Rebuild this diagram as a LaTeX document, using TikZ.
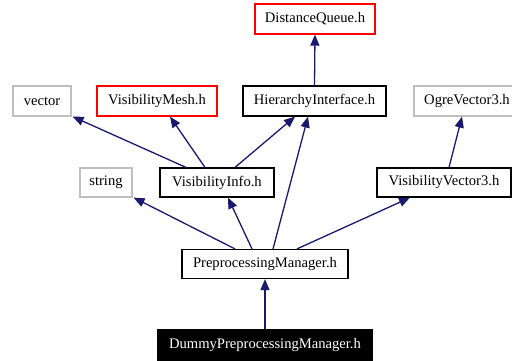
\documentclass[tikz,border=0pt]{standalone}
\usepackage{fontspec}
\setmainfont{Liberation Serif}
\usepackage{xcolor}
\usepackage{tikz}
\usetikzlibrary{arrows.meta}
\usetikzlibrary{positioning, calc}
\definecolor{edgeblue}{RGB}{25,25,112}
\definecolor{boxgray}{RGB}{191,191,191}
\tikzset{hfile/.style={draw, line width=1.2pt, minimum height=30pt, inner sep=0pt, font=\fontsize{14.6}{16}\selectfont},
	grayfile/.style={hfile, draw=boxgray},
	redfile/.style={hfile, draw=red},
	blackfile/.style={hfile, draw=black},
	thisfile/.style={hfile, draw=black, fill=black, text=white},
	incl/.style={edgeblue, line width=1.3pt, -{Triangle[length=11pt,width=9pt]}}
}

\begin{document}
\begin{tikzpicture}[x=1pt,y=-1pt]
\useasboundingbox (0,0) rectangle (512,360);

            \node[redfile, minimum width=120pt] (dq) at (315,19) {DistanceQueue.h};

            \node[grayfile, minimum width=58pt] (vector) at (42,101) {vector};
            \node[redfile, minimum width=120pt] (vmesh) at (157,101) {VisibilityMesh.h};
            \node[blackfile, minimum width=143pt] (hier) at (314.5,101) {HierarchyInterface.h};
            \node[grayfile, minimum width=106pt] (ogre) at (467,101) {OgreVector3.h};

            \node[grayfile, minimum width=52pt, minimum height=29pt] (string) at (106,182.5) {string};
            \node[blackfile, minimum width=114pt, minimum height=29pt] (vinfo) at (217,182.5) {VisibilityInfo.h};
            \node[blackfile, minimum width=134pt, minimum height=29pt] (vvec) at (444,182.5) {VisibilityVector3.h};

            \node[blackfile, minimum width=166pt, minimum height=29pt] (pm) at (265,264) {PreprocessingManager.h};
            \node[thisfile, minimum width=214pt] (dummy) at (265,345) {DummyPreprocessingManager.h};

 % include edges
        \draw[incl] (hier.north) -- (dq.south);
        \draw[incl] ([xshift=-31pt]vinfo.north) -- ([xshift=1pt]vector.south east);
        \draw[incl] ([xshift=-12pt]vinfo.north) -- ([xshift=13pt]vmesh.south);
        \draw[incl] ([xshift=18pt]vinfo.north) -- ([xshift=-19.5pt]hier.south);
        \draw[incl] ([xshift=5pt]vvec.north) -- ([xshift=-5pt]ogre.south);
        \draw[incl] ([xshift=-30pt]pm.north) -- ([xshift=1pt]string.south east);
        \draw[incl] ([xshift=-13pt]pm.north) -- ([xshift=11pt]vinfo.south);
        \draw[incl] ([xshift=8pt]pm.north) -- ([xshift=-6.5pt]hier.south);
        \draw[incl] ([xshift=32pt]pm.north) -- ([xshift=-34pt]vvec.south);
        \draw[incl] (dummy.north) -- (pm.south);
\end{tikzpicture}
\end{document}
